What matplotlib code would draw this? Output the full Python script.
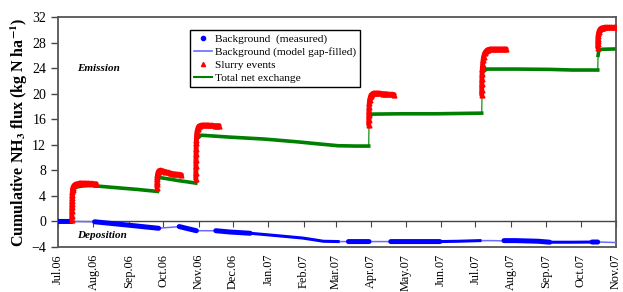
import datetime as dt
import numpy as np
import matplotlib
matplotlib.use("Agg")
import matplotlib.pyplot as plt
import matplotlib.dates as mdates
from matplotlib.lines import Line2D

plt.rcParams['font.family'] = ['Liberation Serif', 'DejaVu Serif']
plt.rcParams['mathtext.fontset'] = 'stix'

# time axis: days since 1 Jul 2006
start = dt.datetime(2006, 7, 1)
end = dt.datetime(2007, 11, 1)

# slurry events (red triangles), one pair of lists per event
ev1_days = [12.0, 12.05, 12.1, 12.15, 12.2, 12.25, 12.3, 12.4, 12.5, 12.7, 13.0, 13.5, 14.0, 15.0,
            16.0, 17.0, 18.0, 19.0, 20.0, 22.0, 24.0, 26.0, 28.0, 30.0, 32.0, 33.5]
ev1_vals = [0.3, 0.9, 1.6, 2.2, 2.7, 3.2, 3.7, 4.2, 4.6, 5.0, 5.3, 5.5, 5.65, 5.8,
            5.85, 5.9, 5.95, 6.0, 6.0, 6.0, 6.0, 6.0, 5.95, 5.95, 5.9, 5.9]
ev2_days = [86.5, 86.55, 86.6, 86.7, 86.8, 87.0, 87.3, 87.7, 88.2, 89, 90, 92, 94, 96, 98,
            100, 102, 104, 106, 108]
ev2_vals = [5.3, 5.8, 6.2, 6.6, 7.0, 7.3, 7.6, 7.8, 7.95, 8.0, 8.0, 7.9, 7.8, 7.7, 7.6,
            7.5, 7.45, 7.4, 7.35, 7.3]
ev3_days = [120.5, 120.55, 120.6, 120.65, 120.7, 120.8, 120.9, 121.0, 121.2, 121.5, 122.0,
            122.5, 123.0, 124.0, 125, 127, 129, 131, 133, 135, 137, 139, 141]
ev3_vals = [6.6, 7.6, 8.6, 9.6, 10.5, 11.4, 12.2, 12.8, 13.5, 14.0, 14.4,
            14.7, 14.9, 15.0, 15.05, 15.1, 15.1, 15.1, 15.05, 15.05, 15.0, 15.0, 15.0]
ev4_days = [271.7, 271.75, 271.8, 271.9, 272.0, 272.2, 272.5, 273.0, 273.5, 274.0, 275, 276,
            278, 280, 282, 284, 286, 288, 290, 292, 294]
ev4_vals = [15.1, 15.8, 16.6, 17.3, 17.9, 18.5, 19.0, 19.4, 19.7, 19.85, 20.0, 20.1,
            20.1, 20.1, 20.05, 20.0, 20.0, 19.95, 19.9, 19.9, 19.85]
ev5_days = [370.5, 370.55, 370.6, 370.7, 370.8, 371.0, 371.3, 371.7, 372.2, 373, 374, 375,
            376, 378, 380, 382, 384, 386, 388, 390, 392]
ev5_vals = [19.8, 20.6, 21.5, 22.3, 23.1, 23.8, 24.5, 25.2, 25.8, 26.3, 26.6, 26.8,
            26.9, 27.0, 27.0, 27.0, 27.0, 27.0, 27.0, 27.0, 27.0]
ev6_days = [472.0, 472.05, 472.1, 472.2, 472.35, 472.5, 473.0, 473.5, 474.0, 475, 476, 477,
            478, 480, 482, 484, 486, 488]
ev6_vals = [27.2, 27.7, 28.2, 28.6, 29.0, 29.3, 29.7, 29.95, 30.1, 30.25, 30.3, 30.35,
            30.4, 30.4, 30.4, 30.4, 30.4, 30.4]

# total net exchange (green)
net_days = [0, 12.0, 12.3, 13, 15, 18, 22, 26, 30, 33.5, 50, 70, 87.0, 87.3, 88, 95, 105, 113,
            120.5, 121, 122, 125, 150, 180, 210, 230, 245, 260, 271.7, 272, 273, 275, 300, 330,
            350, 370.5, 371, 372, 375, 400, 430, 450, 472, 472.3, 473, 476, 488]
net_vals = [0, 0, 4.5, 5.0, 5.3, 5.45, 5.55, 5.6, 5.6, 5.55, 5.3, 5.0, 4.7, 6.5, 6.9, 6.7, 6.4,
            6.2, 6.0, 11.5, 13.0, 13.5, 13.2, 12.9, 12.45, 12.1, 11.85, 11.8, 11.8, 15.5, 16.5,
            16.8, 16.85, 16.85, 16.9, 16.95, 21.0, 23.5, 23.85, 23.85, 23.8, 23.7, 23.7, 26.0,
            26.8, 26.95, 27.0]

# background, model gap-filled (thin blue line)
bg_days = [0, 12, 32, 60, 87, 100, 106, 114, 121, 138, 150, 168, 190, 214, 225, 232, 245, 272,
           300, 335, 365, 370, 380, 400, 420, 440, 472, 488]
bg_vals = [0, 0, -0.05, -0.55, -1.07, -0.9, -0.8, -1.15, -1.45, -1.45, -1.65, -1.85, -2.2, -2.6,
           -2.9, -3.1, -3.15, -3.15, -3.15, -3.15, -3.05, -3.0, -3.0, -3.1, -3.25, -3.25, -3.22,
           -3.3]

# background, measured (nan separates measurement periods)
meas_days = [0, 12, np.nan, 32, 60, 88, np.nan, 106, 114, 121, np.nan, 138, 150, 168, np.nan,
             254, 272, np.nan, 291, 334, np.nan, 369, np.nan, 390, 400, 420, 430, np.nan, 467, 472]
meas_vals = [0, 0, np.nan, -0.05, -0.55, -1.07, np.nan, -0.8, -1.15, -1.45, np.nan, -1.45, -1.65,
             -1.85, np.nan, -3.15, -3.15, np.nan, -3.15, -3.15, np.nan, -3.0, np.nan, -3.0, -3.0,
             -3.1, -3.25, np.nan, -3.22, -3.22]
# stretches with denser-but-thinner measured trace
thin_days = [168, 190, 214, 225, 232, 245, np.nan, 334, 350, 369, np.nan, 430, 450, 469]
thin_vals = [-1.85, -2.2, -2.6, -2.9, -3.1, -3.15, np.nan, -3.15, -3.1, -3.0, np.nan, -3.25,
             -3.25, -3.22]

yticks = [-4, 0, 4, 8, 12, 16, 20, 24, 28, 32]


def to_dates(days):
    return mdates.date2num(start) + np.asarray(days, dtype=float)


fig = plt.figure(figsize=(6.23, 2.92), dpi=100)
ax = fig.add_axes([0.0931, 0.1541, 0.8957, 0.7877])

blue = '#0000ff'
green = '#008000'

# green: thin line everywhere, thick where there is no jump
nd = to_dates(net_days)
nv = np.array(net_vals, dtype=float)
ax.plot(nd, nv, color='#2e9a2e', lw=1.0, zorder=2)
jumps = np.where(np.diff(nv) > 1.0)[0]
seg_x, seg_y = [], []
prev = 0
for j in list(jumps) + [len(nv) - 1]:
    seg_x += list(nd[prev:j + 1]) + [np.nan]
    seg_y += list(nv[prev:j + 1]) + [np.nan]
    prev = j + 1
ax.plot(seg_x, seg_y, color=green, lw=2.6, zorder=2)

ax.plot(to_dates(bg_days), bg_vals, color='#6b6bff', lw=1.1, zorder=3)
ax.plot(to_dates(thin_days), thin_vals, color=blue, lw=2.2, zorder=3)
ax.plot(to_dates(meas_days), meas_vals, color=blue, lw=3.6, solid_capstyle='round', zorder=3)

for d, v in [(ev1_days, ev1_vals), (ev2_days, ev2_vals), (ev3_days, ev3_vals),
             (ev4_days, ev4_vals), (ev5_days, ev5_vals), (ev6_days, ev6_vals)]:
    ax.plot(to_dates(d), v, color='red', lw=3.5, marker='^', ms=3.5, zorder=5,
            solid_capstyle='round')

ax.set_xlim(mdates.date2num(start), mdates.date2num(end))
ax.set_ylim(-4, 32)
ax.set_yticks(yticks)
ax.tick_params(axis='y', direction='out', length=5, labelsize=10, width=1, color='#444444')

months = mdates.MonthLocator()
ax.xaxis.set_major_locator(months)
ax.xaxis.set_major_formatter(mdates.DateFormatter('%b.%y'))
ax.tick_params(axis='x', length=0, labelsize=8.8, rotation=90, pad=5)

for s in ax.spines.values():
    s.set_color('#555555')
    s.set_linewidth(1.3)

# axis line with ticks at y = 0
zero_ax = ax.secondary_xaxis(4 / 36)
zero_ax.xaxis.set_major_locator(mdates.MonthLocator())
zero_ax.tick_params(axis='x', direction='out', length=4, labelbottom=False, color='#444444')
zero_ax.spines['bottom'].set_color('#444444')
zero_ax.spines['bottom'].set_linewidth(1.0)

ax.set_ylabel(r'Cumulative NH$_\mathbf{3}$ flux (kg N ha$^\mathbf{-1}$)', fontsize=11.5,
              fontweight='bold')
ax.yaxis.set_label_coords(-0.05, 0.5)

ax.text(0.034, 0.774, 'Emission', transform=ax.transAxes, fontsize=8, fontweight='bold',
        style='italic', va='center')
ax.text(0.034, 0.048, 'Deposition', transform=ax.transAxes, fontsize=8, fontweight='bold',
        style='italic', va='center')

handles = [
    Line2D([], [], color=blue, marker='o', ms=3, ls='none'),
    Line2D([], [], color='#6b6bff', lw=1.2),
    Line2D([], [], color='red', marker='^', ms=3, ls='none'),
    Line2D([], [], color=green, lw=1.5),
]
labels = ['Background  (measured)', 'Background (model gap-filled)', 'Slurry events',
          'Total net exchange']
leg = ax.legend(handles, labels, loc='upper left', bbox_to_anchor=(0.236, 0.943),
                borderaxespad=0, fontsize=8.2, frameon=True, fancybox=False, framealpha=1,
                edgecolor='black', handlelength=1.6, handletextpad=0.3, labelspacing=0.25,
                borderpad=0.35)
leg.get_frame().set_linewidth(1.0)

fig.savefig('out.png', dpi=100)
